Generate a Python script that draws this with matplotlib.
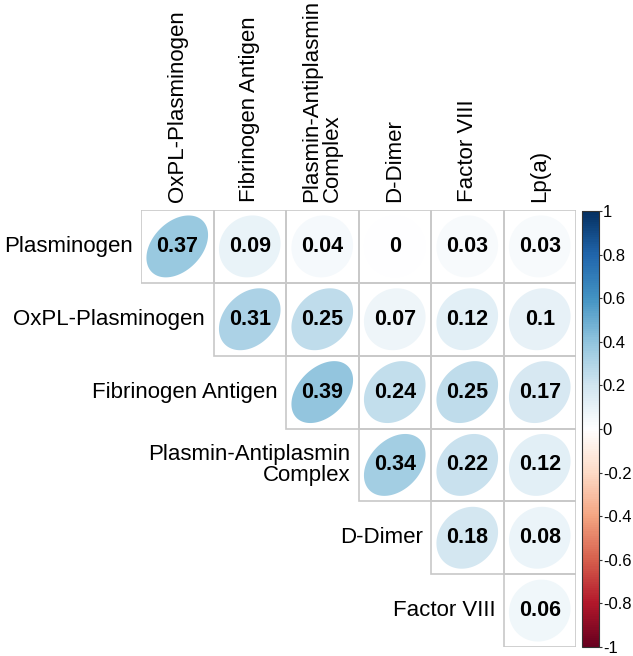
import numpy as np
import matplotlib
matplotlib.use("Agg")
import matplotlib.pyplot as plt
from matplotlib.colors import LinearSegmentedColormap, Normalize
from matplotlib.patches import Polygon, Rectangle
import matplotlib.colorbar as mcolorbar

plt.rcParams['font.family'] = ['Liberation Sans', 'DejaVu Sans']

row_labels = ["Plasminogen", "OxPL-Plasminogen", "Fibrinogen Antigen",
              "Plasmin-Antiplasmin\nComplex", "D-Dimer", "Factor VIII"]
col_labels = ["OxPL-Plasminogen", "Fibrinogen Antigen",
              "Plasmin-Antiplasmin\nComplex", "D-Dimer", "Factor VIII", "Lp(a)"]

row0 = [0.37, 0.09, 0.04, 0.00, 0.03, 0.03]
row1 = [0.31, 0.25, 0.07, 0.12, 0.10]
row2 = [0.39, 0.24, 0.25, 0.17]
row3 = [0.34, 0.22, 0.12]
row4 = [0.18, 0.08]
row5 = [0.06]
rows = [row0, row1, row2, row3, row4, row5]

cbar_ticks = [1, 0.8, 0.6, 0.4, 0.2, 0, -0.2, -0.4, -0.6, -0.8, -1]
cbar_ticklabels = ["1", "0.8", "0.6", "0.4", "0.2", "0", "-0.2", "-0.4", "-0.6", "-0.8", "-1"]

col2 = ["#67001F", "#B2182B", "#D6604D", "#F4A582", "#FDDBC7", "#FFFFFF",
        "#D1E5F0", "#92C5DE", "#4393C3", "#2166AC", "#053061"]
cmap = LinearSegmentedColormap.from_list("RdBu_corr", col2, N=200)
norm = Normalize(-1, 1)

W, H = 633, 656
fig = plt.figure(figsize=(W / 100, H / 100), dpi=100)

gx0, gx1 = 141, 576
gy0, gy1 = 210, 647
ax = fig.add_axes([gx0 / W, (H - gy1) / H, (gx1 - gx0) / W, (gy1 - gy0) / H])
ax.set_xlim(0, 6)
ax.set_ylim(0, 6)
ax.axis("off")

n = 6
k = np.linspace(0, 2 * np.pi, 120)
for i, vals in enumerate(rows):
    for jj, r in enumerate(vals):
        j = i + jj
        cx = j + 0.5
        cy = n - i - 0.5
        ax.add_patch(Rectangle((j, n - i - 1), 1, 1, fill=False,
                               edgecolor="#c8c8c8", lw=1.2, zorder=1))
        a = np.arccos(r) / 2
        xs = cx + 0.85 * np.cos(k + a) / 2
        ys = cy + 0.85 * np.cos(k - a) / 2
        ax.add_patch(Polygon(np.column_stack([xs, ys]), closed=True,
                             facecolor=cmap(norm(r)), edgecolor="none", zorder=2))
        txt = "0" if r == 0 else ("%g" % r)
        ax.text(cx, cy, txt, ha="center", va="center", fontsize=15.5,
                fontweight="bold", color="black", zorder=3)

# Column labels
for j, lab in enumerate(col_labels):
    ax.annotate(lab, xy=(j + 0.5, n), xytext=(0, 6), textcoords="offset points",
                rotation=90, ha="center", va="bottom", multialignment="left",
                fontsize=16, color="black", annotation_clip=False,
                linespacing=1.0)

# Row labels
for i, lab in enumerate(row_labels):
    ax.annotate(lab, xy=(i, n - i - 0.5), xytext=(-6, 0), textcoords="offset points",
                ha="right", va="center", multialignment="right",
                fontsize=16, color="black", annotation_clip=False,
                linespacing=1.05)

# Colorbar
cax = fig.add_axes([582 / W, (H - 647) / H, 17 / W, (647 - 211) / H])
cb = mcolorbar.ColorbarBase(cax, cmap=cmap, norm=norm, orientation="vertical")
cb.outline.set_edgecolor("#333333")
cb.outline.set_linewidth(0.8)
cb.set_ticks(cbar_ticks)
cb.set_ticklabels(cbar_ticklabels)
cax.tick_params(labelsize=12, length=2.2, width=0.8, color="#333333", pad=0.5)

fig.savefig("out.png", dpi=100, facecolor="white")
